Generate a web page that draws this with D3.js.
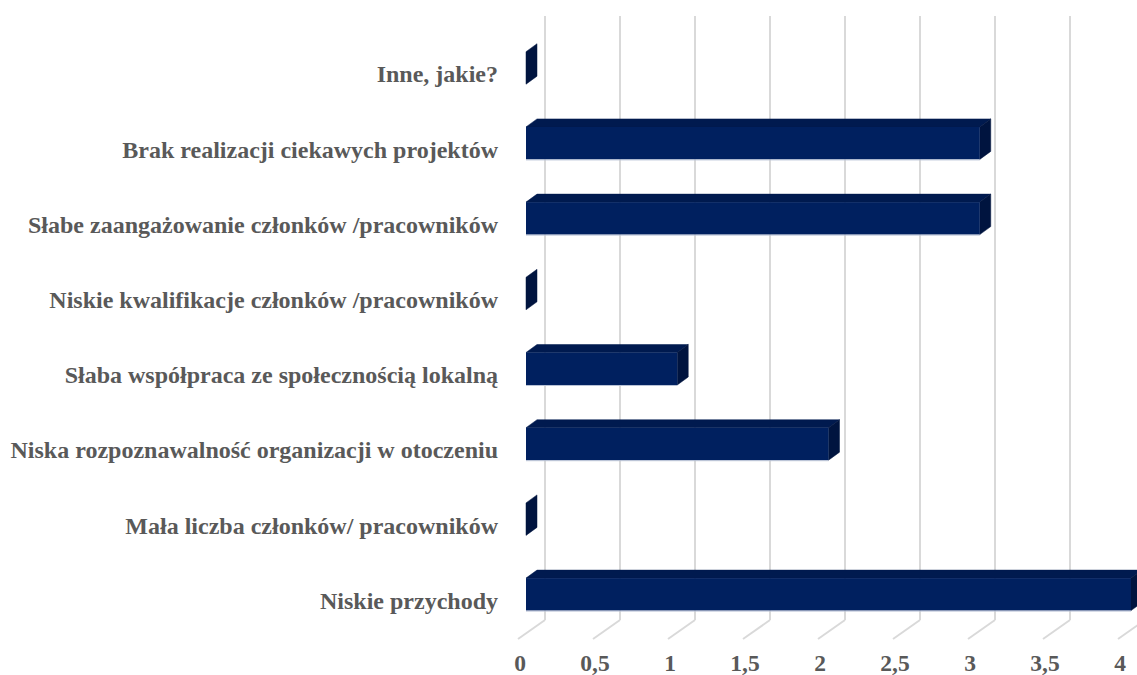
<!DOCTYPE html>
<html>
<head>
<meta charset="utf-8">
<script src="https://cdn.jsdelivr.net/npm/d3@7"></script>
<style>
  html, body { margin: 0; padding: 0; background: #ffffff; }
  svg { display: block; }
</style>
</head>
<body>
<svg id="chart" width="1137" height="675"></svg>
<script>
// Categories, top to bottom as shown
const categories = [
  "Inne, jakie?",
  "Brak realizacji ciekawych projektów",
  "Słabe zaangażowanie członków /pracowników",
  "Niskie kwalifikacje członków /pracowników",
  "Słaba współpraca ze społecznością lokalną",
  "Niska rozpoznawalność organizacji w otoczeniu",
  "Mała liczba członków/ pracowników",
  "Niskie przychody"
];
const values = [0, 3, 3, 0, 1, 2, 0, 4];
const tickValues = [0, 0.5, 1, 1.5, 2, 2.5, 3, 3.5, 4];
const tickLabels = ["0", "0,5", "1", "1,5", "2", "2,5", "3", "3,5", "4"];

const FONT = "'Liberation Serif', 'Times New Roman', 'DejaVu Serif', serif";
const svg = d3.select("#chart");

// 3D oblique projection helpers
const xBack = d3.scaleLinear().domain([0, 4]).range([545, 1145]);   // back wall
const xFloor = d3.scaleLinear().domain([0, 4]).range([518, 1118]);  // floor front edge
const xBar = d3.scaleLinear().domain([0, 4]).range([526, 1131]);    // bar front face
const depthDx = 11, depthDy = -8;

const y = d3.scaleBand()
  .domain(categories)
  .range([9, 653.3])
  .paddingInner(0.568)
  .paddingOuter(0.568);

const wallTop = 16, wallBottom = 620, floorFrontY = 639;

// Gridlines on back wall + floor
const grid = svg.append("g");
tickValues.forEach(v => {
  grid.append("line")
    .attr("x1", xBack(v)).attr("x2", xBack(v))
    .attr("y1", wallTop).attr("y2", wallBottom)
    .attr("stroke", "#d9d9d9").attr("stroke-width", 2);
  grid.append("line")
    .attr("x1", xBack(v)).attr("x2", xFloor(v))
    .attr("y1", wallBottom).attr("y2", floorFrontY)
    .attr("stroke", "#d9d9d9").attr("stroke-width", 2);
});

// Tick labels
svg.append("g").selectAll("text")
  .data(tickValues)
  .join("text")
  .attr("x", (d) => xFloor(d) + 2)
  .attr("y", 671)
  .attr("text-anchor", "middle")
  .attr("font-family", FONT)
  .attr("font-weight", "bold")
  .attr("fill", "#595959")
  .attr("font-size", 23.5)
  .text((d, i) => tickLabels[i]);

// Bars
const bars = svg.append("g");
categories.forEach((c, i) => {
  const v = values[i];
  const x0 = xBar(0), x1 = xBar(v);
  const yt = y(c), yb = y(c) + y.bandwidth();
  const g = bars.append("g");
  if (v > 0) {
    g.append("path")
      .attr("d", `M${x0},${yt} L${x0 + depthDx},${yt + depthDy} L${x1 + depthDx},${yt + depthDy} L${x1},${yt} Z`)
      .attr("fill", "#001a4f").attr("stroke", "#001a4f").attr("stroke-width", 0.5);
  }
  g.append("path")
    .attr("d", `M${x1},${yt} L${x1 + depthDx},${yt + depthDy} L${x1 + depthDx},${yb + depthDy} L${x1},${yb} Z`)
    .attr("fill", "#00143f").attr("stroke", "#00143f").attr("stroke-width", 0.5);
  if (v > 0) {
    g.append("rect")
      .attr("x", x0).attr("y", yt)
      .attr("width", x1 - x0).attr("height", yb - yt)
      .attr("fill", "#00205f");
    g.append("line")
      .attr("x1", x0).attr("x2", x1).attr("y1", yb + 0.5).attr("y2", yb + 0.5)
      .attr("stroke", "#b8c2d6").attr("stroke-width", 1);
  }
});

// Category labels
svg.append("g").selectAll("text")
  .data(categories)
  .join("text")
  .attr("x", 498)
  .attr("y", (d) => y(d) + y.bandwidth() / 2 + 14.5)
  .attr("text-anchor", "end")
  .attr("font-family", FONT)
  .attr("font-weight", "bold")
  .attr("fill", "#595959")
  .attr("font-size", 24)
  .text((d) => d);
</script>
</body>
</html>
